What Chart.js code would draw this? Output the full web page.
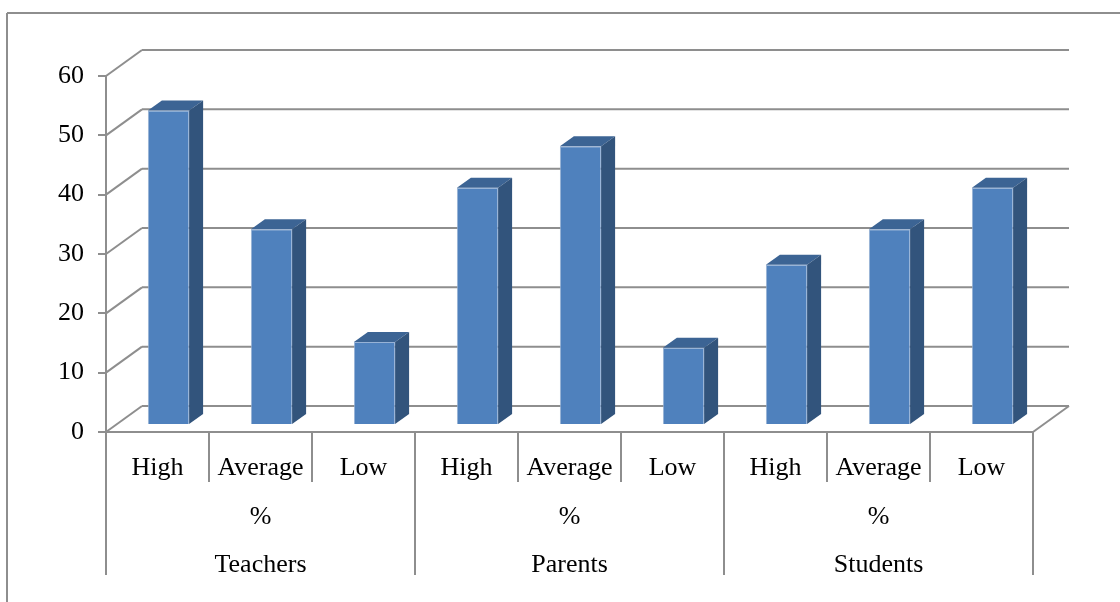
<!DOCTYPE html>
<html>
<head>
<meta charset="utf-8">
<script src="https://cdn.jsdelivr.net/npm/chart.js@4/dist/chart.umd.min.js"></script>
<style>
	body { margin: 0; background: #fff; }
	#wrap { width: 1120px; height: 602px; position: relative; }
</style>
</head>
<body>
<div id="wrap"><canvas id="grafico"></canvas></div>
<script>
// dados
levels = ['High', 'Average', 'Low'];
groups = ['Teachers', 'Parents', 'Students'];
unitLabel = '%';
teachers = [53, 33, 14];
parents = [40, 47, 13];
students = [27, 33, 40];
yMin = 0;
yMax = 60;
yStep = 10;

corFrente = '#4f81bd';
corTopo = '#3c6494';
corLado = '#32547c';
corLinha = '#8e8e8e';
fonte = "'Liberation Serif', 'Times New Roman', serif";

// profundidade do "3D"
parede = { dx: 36, dy: -26 };
barraShift = { dx: 11, dy: -7 };
barraProf = { dx: 14, dy: -10 };

function makeLabels() {
	var labels = [];
	groups.forEach(function (g) {
		levels.forEach(function (lv, li) {
			if (li == 1) labels.push([lv, unitLabel, g]);
			else labels.push([lv]);
		});
	});
	return labels;
}

function makeValues() {
	return teachers.concat(parents).concat(students);
}

function linha(ctx, x1, y1, x2, y2) {
	ctx.beginPath();
	ctx.moveTo(x1, y1);
	ctx.lineTo(x2, y2);
	ctx.stroke();
}

var fundo3d = {
	id: 'fundo3d',
	beforeDatasetsDraw: function (chart) {
		var ctx = chart.ctx;
		var xs = chart.scales.x;
		var ys = chart.scales.y;
		var area = chart.chartArea;
		ctx.save();
		ctx.strokeStyle = corLinha;
		ctx.lineWidth = 2;

		// moldura externa
		linha(ctx, 7, 13, 1120, 13);
		linha(ctx, 7, 13, 7, 602);

		// parede do fundo + diagonais
		ys.ticks.forEach(function (t) {
			var y = ys.getPixelForValue(t.value);
			linha(ctx, area.left, y, area.left + parede.dx, y + parede.dy);
			linha(ctx, area.left + parede.dx, y + parede.dy, area.right + parede.dx, y + parede.dy);
		});
		// canto do piso
		linha(ctx, area.right, area.bottom, area.right + parede.dx, area.bottom + parede.dy);

		// separadores do eixo x
		var n = xs.ticks.length;
		var passo = (area.right - area.left) / n;
		for (var i = 0; i <= n; i++) {
			var x = area.left + i * passo;
			var fim = (i % levels.length == 0) ? 575 : 482;
			linha(ctx, x, area.bottom, x, fim);
		}
		ctx.restore();

		// barras deslocadas para o meio do piso
		ctx.save();
		ctx.translate(barraShift.dx, barraShift.dy);
	},
	afterDatasetsDraw: function (chart) {
		var ctx = chart.ctx;
		var meta = chart.getDatasetMeta(0);
		meta.data.forEach(function (bar) {
			var p = bar.getProps(['x', 'y', 'base', 'width'], true);
			var l = p.x - p.width / 2;
			var r = p.x + p.width / 2;
			// topo
			ctx.fillStyle = corTopo;
			ctx.beginPath();
			ctx.moveTo(l, p.y);
			ctx.lineTo(l + barraProf.dx, p.y + barraProf.dy);
			ctx.lineTo(r + barraProf.dx, p.y + barraProf.dy);
			ctx.lineTo(r, p.y);
			ctx.closePath();
			ctx.fill();
			// lado
			ctx.fillStyle = corLado;
			ctx.beginPath();
			ctx.moveTo(r, p.y);
			ctx.lineTo(r + barraProf.dx, p.y + barraProf.dy);
			ctx.lineTo(r + barraProf.dx, p.base + barraProf.dy);
			ctx.lineTo(r, p.base);
			ctx.closePath();
			ctx.fill();
		});
		ctx.restore();
	}
};

var ctx = document.getElementById('grafico').getContext('2d');
window.grafico = new Chart(ctx, {
	type: 'bar',
	data: {
		labels: makeLabels(),
		datasets: [
			{
				data: makeValues(),
				backgroundColor: corFrente,
				borderColor: 'rgba(140,170,210,0.9)',
				borderWidth: 1,
				barPercentage: 0.4,
				categoryPercentage: 1,
				clip: false,
			},
		],
	},
	options: {
		responsive: true,
		maintainAspectRatio: false,
		animation: false,
		layout: {
			padding: { top: 76, right: 87, bottom: 0, left: 0 },
		},
		plugins: {
			legend: { display: false },
			tooltip: { enabled: false },
		},
		scales: {
			x: {
				grid: { display: true, drawOnChartArea: false, drawTicks: false, color: corLinha },
				border: { display: true, color: corLinha, width: 2 },
				ticks: {
					autoSkip: false,
					maxRotation: 0,
					minRotation: 0,
					padding: 12,
					color: '#000',
					font: { family: fonte, size: 26, lineHeight: 1.865 },
				},
				afterFit: function (scale) {
					scale.height = 170;
				},
			},
			y: {
				min: yMin,
				max: yMax,
				grid: { display: true, drawOnChartArea: false, drawTicks: true, tickLength: 8, color: corLinha, lineWidth: 2 },
				border: { display: true, color: corLinha, width: 2 },
				ticks: {
					stepSize: yStep,
					padding: 14,
					color: '#000',
					font: { family: fonte, size: 26 },
				},
				afterFit: function (scale) {
					scale.width = 106;
				},
			},
		},
	},
	plugins: [fundo3d],
});
</script>
</body>
</html>
